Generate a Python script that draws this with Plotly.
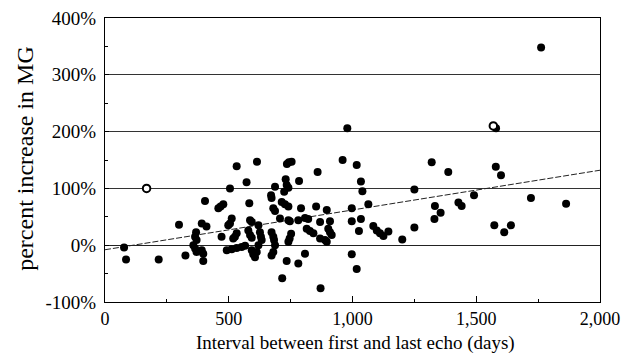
import plotly.graph_objects as go

# Interval between first and last echo (days) and percent increase in MG
days = [77, 85, 217, 299, 325,
        357, 364, 370, 368, 364, 370, 391, 410, 404, 391, 397, 397,
        458, 467, 478, 471, 498, 505, 512, 492, 512, 532, 552, 566,
        518, 525, 532, 505, 532, 572, 614, 583, 579, 586, 593, 586, 593,
        593, 599, 606, 613, 620, 620, 626, 630, 633,
        673, 680, 673, 680, 687, 671, 687, 673, 680, 683, 687,
        707, 714, 727, 741, 724, 730, 734, 741, 735, 743, 754,
        716, 734, 741, 747, 752, 746, 741,
        784, 792, 781, 808, 821, 815, 828, 842, 781, 808,
        859, 853, 869, 869, 889, 896, 871,
        896, 909, 902, 909, 916, 960, 979,
        997, 997, 997, 1017, 1034, 1040, 1026, 1034, 1017, 1064,
        1084, 1098, 1111, 1125, 1145, 1201, 1250, 1250,
        1320, 1333, 1356, 1331, 1387, 1428, 1441, 1491,
        1580, 1579, 1600, 1573, 1613, 1640, 1721, 1762, 1863]
pct = [-4, -25, -25, 36, -18,
       0, -6, -12, 23, 15, 9, 38, 33, 78, -9, -15, -28,
       65, 68, 72, 15, 35, 38, 47, -9, -7, -5, -3, -1,
       12, 15, 21, 100, 139, 111, 147, 74, 26, 18, 13, 44, 41,
       -9, -16, -21, -12, 0, 35, 23, 15, 9,
       -18, -12, 83, 65, 60, 88, 103, 23, 15, 9, 0,
       47, 76, 72, 68, 94, 116, 106, 101, 143, 146, 147,
       -58, -28, 44, 42, 20, 12, 6,
       113, 65, 44, 48, 46, 29, 25, 21, -32, -15,
       129, 68, 41, 12, 9, 6, -76,
       62, 42, 29, 23, 18, 150, 206,
       65, 42, -16, 141, 112, 95, 25, 46, -42, 72,
       34, 26, 21, 16, 24, 10, 31, 98,
       146, 69, 57, 46, 129, 75, 69, 88,
       206, 138, 123, 35, 23, 35, 83, 348, 73]

# open (hollow) markers
open_days = [168, 1569]
open_pct = [100, 210]

# linear trend line (intercept, slope)
trend_intercept = -8
trend_slope = 0.07
trend_x = [0, 2000]

x_ticks = [0, 500, 1000, 1500, 2000]
x_ticktext = ["0", "500", "1,000", "1,500", "2,000"]
y_ticks = [-100, 0, 100, 200, 300, 400]
y_ticktext = ["-100%", "0%", "100%", "200%", "300%", "400%"]

FONT = "Liberation Serif, Times New Roman, serif"

fig = go.Figure()
fig.add_trace(go.Scatter(
    x=trend_x, y=[trend_intercept + trend_slope * v for v in trend_x],
    mode="lines", line=dict(color="#222", width=1, dash="6px,2px"),
    showlegend=False, hoverinfo="skip"))
fig.add_trace(go.Scatter(
    x=days, y=pct, mode="markers",
    marker=dict(color="black", size=8, line=dict(width=0)),
    showlegend=False))
fig.add_trace(go.Scatter(
    x=open_days, y=open_pct, mode="markers",
    marker=dict(color="white", size=7.5, line=dict(color="black", width=2)),
    showlegend=False))

fig.update_layout(
    width=623, height=357, autosize=False,
    margin=dict(l=105, r=23, t=18, b=55, autoexpand=False),
    paper_bgcolor="white", plot_bgcolor="white",
    font=dict(family=FONT, color="black", size=17),
    annotations=[
        dict(text="percent increase in MG", xref="paper", yref="paper",
             x=-0.162, y=0.507, xanchor="center", yanchor="middle",
             textangle=-90, showarrow=False,
             font=dict(family=FONT, size=24, color="black")),
        dict(text="Interval between first and last echo (days)",
             xref="paper", yref="paper", x=0.507, y=-0.144,
             xanchor="center", yanchor="middle", showarrow=False,
             font=dict(family=FONT, size=19, color="black")),
    ],
)
fig.update_xaxes(
    range=[0, 2000], tickvals=x_ticks, ticktext=x_ticktext,
    showgrid=False, zeroline=False, automargin=False,
    showline=True, linecolor="black", linewidth=1, mirror=True,
    ticks="inside", ticklen=6, tickcolor="black",
    minor=dict(dtick=250, ticks="inside", ticklen=3, tickcolor="black"),
    tickfont=dict(family=FONT, size=18), ticklabelstandoff=0,
)
fig.update_yaxes(
    range=[-100, 400], tickvals=y_ticks, ticktext=y_ticktext,
    showgrid=True, gridcolor="#333", gridwidth=1, automargin=False,
    zeroline=True, zerolinecolor="#222", zerolinewidth=1,
    showline=True, linecolor="black", linewidth=1, mirror=True,
    ticks="inside", ticklen=4, tickcolor="black",
    minor=dict(dtick=50, ticks="inside", ticklen=3, tickcolor="black"),
    tickfont=dict(family=FONT, size=19), ticklabelstandoff=4,
)

fig.write_html("out.html",
               config={"displayModeBar": False, "responsive": False},
               post_script="document.body.style.margin='0px';document.body.style.overflow='hidden';")
